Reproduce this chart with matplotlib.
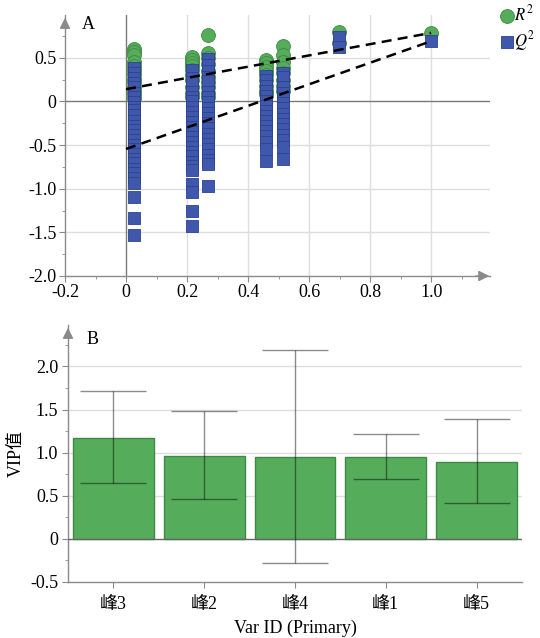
import matplotlib
matplotlib.use("Agg")
import matplotlib.pyplot as plt
from matplotlib.ticker import MultipleLocator, FixedLocator, FixedFormatter

plt.rcParams['font.family'] = ['Liberation Serif', 'Noto Sans CJK SC']
plt.rcParams['mathtext.fontset'] = 'stix'
plt.rcParams['axes.unicode_minus'] = False

# ---------------- Panel A data (permutation test) ----------------
perm_x = [0.027, 0.215, 0.27, 0.459, 0.514, 0.698, 1.0]
r2_cols = [
    [0.60, 0.57, 0.53, 0.45, 0.41, 0.36, 0.31, 0.26, 0.22, 0.17, 0.12, 0.08, 0.04],
    [0.51, 0.47, 0.44, 0.41, 0.36, 0.30, 0.24, 0.165, 0.10, 0.05],
    [0.76, 0.56, 0.50, 0.43, 0.35, 0.28, 0.22, 0.165, 0.10, 0.05],
    [0.48, 0.44, 0.40, 0.35, 0.30, 0.24, 0.18, 0.12, 0.08],
    [0.63, 0.53, 0.45, 0.38, 0.32, 0.25, 0.18, 0.12],
    [0.80, 0.67],
    [0.785],
]
q2_cols = [
    [0.38, 0.33, 0.27, 0.21, 0.16, 0.10, 0.05, -0.01, -0.06, -0.10, -0.16, -0.22,
     -0.28, -0.33, -0.38, -0.44, -0.50, -0.55, -0.60, -0.66, -0.71, -0.77, -0.82,
     -0.88, -0.94, -1.10, -1.34, -1.53],
    [0.36, 0.27, 0.22, 0.11, 0.05, 0.00, -0.06, -0.12, -0.18, -0.24, -0.29, -0.35,
     -0.41, -0.46, -0.52, -0.58, -0.63, -0.69, -0.74, -0.79, -0.95, -1.04, -1.26, -1.43],
    [0.49, 0.42, 0.35, 0.28, 0.23, 0.11, 0.05, -0.01, -0.07, -0.13, -0.19, -0.25,
     -0.31, -0.37, -0.43, -0.49, -0.55, -0.61, -0.67, -0.72, -0.97],
    [0.29, 0.24, 0.18, 0.12, 0.06, 0.01, -0.05, -0.11, -0.17, -0.22, -0.28, -0.34,
     -0.40, -0.46, -0.54, -0.68],
    [0.33, 0.28, 0.16, 0.10, 0.04, -0.02, -0.08, -0.14, -0.20, -0.26, -0.32, -0.38,
     -0.44, -0.52, -0.66],
    [0.74, 0.62],
    [0.69],
]
line_x = [0.0, 1.0]
r2_line = [0.14, 0.785]
q2_line = [-0.545, 0.69]

a_xticks = [-0.2, 0.0, 0.2, 0.4, 0.6, 0.8, 1.0]
a_xlabels = ['-0.2', '0', '0.2', '0.4', '0.6', '0.8', '1.0']
a_yticks = [-2.0, -1.5, -1.0, -0.5, 0.0, 0.5]
a_ylabels = ['-2.0', '-1.5', '-1.0', '-0.5', '0', '0.5']

# ---------------- Panel B data (VIP) ----------------
peaks = ['峰3', '峰2', '峰4', '峰1', '峰5']
vip = [1.17, 0.96, 0.955, 0.955, 0.89]
vip_low = [0.65, 0.46, -0.275, 0.69, 0.415]
vip_high = [1.71, 1.48, 2.19, 1.22, 1.39]
b_yticks = [-0.5, 0.0, 0.5, 1.0, 1.5, 2.0]
b_ylabels = ['-0.5', '0', '0.5', '1.0', '1.5', '2.0']

GREEN = '#55ad5b'
GREEN_E = '#3e8a43'
BLUE = '#4058ab'
BLUE_E = '#2d4190'
AX = '#8a8a8a'
GRID = '#dedede'
FS = 13

fig = plt.figure(figsize=(5.4, 6.38), dpi=100)

# ---------------- Panel A ----------------
axA = fig.add_axes([65/540, 1-276/638, (490-65)/540, (276-15)/638])
axA.set_xlim(-0.2, 1.193)
axA.set_ylim(-2.0, 0.99)
for s in ['top', 'right']:
    axA.spines[s].set_visible(False)
for s in ['left', 'bottom']:
    axA.spines[s].set_color(AX)
    axA.spines[s].set_linewidth(1.0)
for gx in [0.2, 0.4, 0.6, 0.8, 1.0]:
    axA.axvline(gx, color=GRID, lw=1.0, zorder=0)
for gy in [-1.5, -1.0, -0.5, 0.5]:
    axA.axhline(gy, color=GRID, lw=1.0, zorder=0)
axA.axhline(0, color='#7a7a7a', lw=1.0, zorder=1)
axA.axvline(0, color='#7a7a7a', lw=1.0, zorder=1)

for x, col in zip(perm_x, r2_cols):
    axA.scatter([x]*len(col), col, s=100, marker='o', color=GREEN,
                edgecolor=GREEN_E, linewidth=0.6, zorder=3)
for x, col in zip(perm_x, q2_cols):
    axA.scatter([x]*len(col), col, s=72, marker='s', color=BLUE,
                edgecolor=BLUE_E, linewidth=0.6, zorder=4)
axA.plot(line_x, r2_line, ls=(0, (4, 2.5)), color='black', lw=1.8, zorder=5)
axA.plot(line_x, q2_line, ls=(0, (4, 2.5)), color='black', lw=1.8, zorder=5)

axA.xaxis.set_major_locator(FixedLocator(a_xticks))
axA.xaxis.set_major_formatter(FixedFormatter(a_xlabels))
axA.yaxis.set_major_locator(FixedLocator(a_yticks))
axA.yaxis.set_major_formatter(FixedFormatter(a_ylabels))
axA.xaxis.set_minor_locator(MultipleLocator(0.1))
axA.yaxis.set_minor_locator(MultipleLocator(0.25))
axA.tick_params(which='major', length=4, color=AX, labelsize=FS, pad=2)
axA.tick_params(which='minor', length=2.5, color=AX)
axA.annotate('', xy=(0, 1.0), xytext=(0, 0.94), xycoords='axes fraction',
             arrowprops=dict(arrowstyle='-|>', color=AX, lw=1, mutation_scale=16))
axA.annotate('', xy=(1.005, 0), xytext=(0.96, 0), xycoords='axes fraction',
             arrowprops=dict(arrowstyle='-|>', color=AX, lw=1, mutation_scale=16))
axA.text(0.04, 0.965, 'A', transform=axA.transAxes, fontsize=FS, va='center', ha='left')

hR = axA.scatter([], [], s=100, marker='o', color=GREEN, edgecolor=GREEN_E, linewidth=0.6)
hQ = axA.scatter([], [], s=72, marker='s', color=BLUE, edgecolor=BLUE_E, linewidth=0.6)
fig.legend([hR, hQ], ['$R^2$', '$Q^2$'], loc='upper left',
           bbox_to_anchor=(500/540, 1-4/638), frameon=False, fontsize=12,
           handlelength=0.8, handletextpad=0.05, labelspacing=0.3, borderaxespad=0,
           borderpad=0)

# ---------------- Panel B ----------------
axB = fig.add_axes([68/540, 1-582/638, (522-68)/540, (582-325)/638])
axB.set_xlim(-0.5, 4.5)
axB.set_ylim(-0.5, 2.48)
for s in ['top', 'right']:
    axB.spines[s].set_visible(False)
for s in ['left', 'bottom']:
    axB.spines[s].set_color(AX)
    axB.spines[s].set_linewidth(1.0)
for gy in [0.5, 1.0, 1.5, 2.0]:
    axB.axhline(gy, color=GRID, lw=1.0, zorder=0)
xs = list(range(len(peaks)))
axB.bar(xs, vip, width=0.89, color=GREEN, edgecolor=GREEN_E, linewidth=1.0, zorder=2)
axB.axhline(0, color='#666666', lw=1.0, zorder=3)
err_lo = [v - l for v, l in zip(vip, vip_low)]
err_hi = [h - v for v, h in zip(vip, vip_high)]
axB.errorbar(xs, vip, yerr=[err_lo, err_hi], fmt='none', ecolor='black', alpha=0.45,
             elinewidth=1.0, capsize=24, capthick=1.0, zorder=4)

axB.xaxis.set_major_locator(FixedLocator(xs))
axB.xaxis.set_major_formatter(FixedFormatter(peaks))
axB.yaxis.set_major_locator(FixedLocator(b_yticks))
axB.yaxis.set_major_formatter(FixedFormatter(b_ylabels))
axB.yaxis.set_minor_locator(MultipleLocator(0.25))
axB.tick_params(which='major', length=4, color=AX, labelsize=FS, pad=3)
axB.tick_params(axis='x', which='major', pad=6)
axB.tick_params(which='minor', length=2.5, color=AX)
axB.annotate('', xy=(0, 1.0), xytext=(0, 0.94), xycoords='axes fraction',
             arrowprops=dict(arrowstyle='-|>', color=AX, lw=1, mutation_scale=16))
axB.text(0.04, 0.945, 'B', transform=axB.transAxes, fontsize=FS, va='center', ha='left')
axB.set_ylabel('VIP值', fontsize=FS, labelpad=4)
axB.set_xlabel('Var ID (Primary)', fontsize=FS, labelpad=5)

fig.savefig('out.png', dpi=100)
